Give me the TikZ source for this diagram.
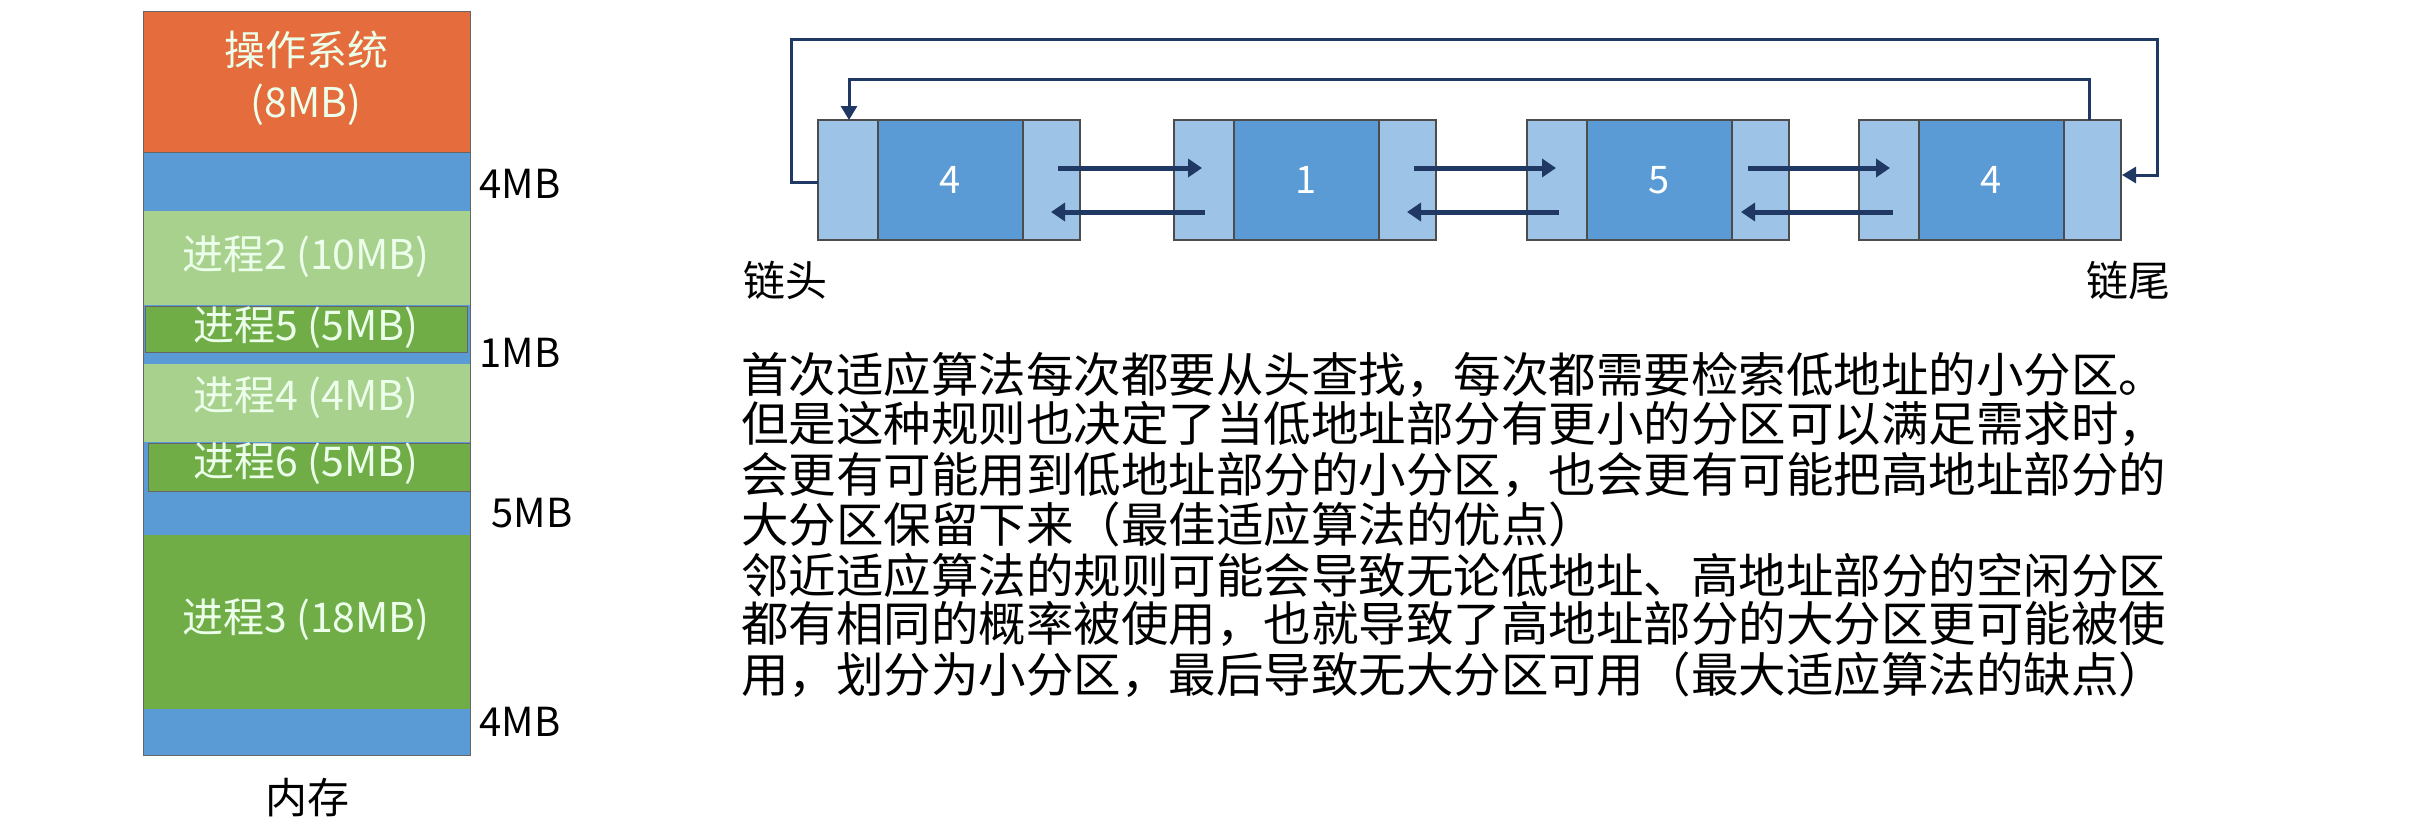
\documentclass[tikz,border=0pt]{standalone}
\usepackage{fontspec}
\setmainfont{Noto Sans CJK SC}
\usetikzlibrary{arrows.meta}
\definecolor{os}{HTML}{E56C3C}
\definecolor{fb}{HTML}{5B9BD5}
\definecolor{lg}{HTML}{A9D18E}
\definecolor{dg}{HTML}{70AD47}
\definecolor{lb}{HTML}{9DC3E6}
\definecolor{nb}{HTML}{5B9BD5}
\definecolor{ar}{HTML}{1F3864}
\begin{document}
\begin{tikzpicture}[x=1pt,y=-1pt,
  blk/.style={draw=black!60,line width=1pt},
  mtxt/.style={text=white!92!green,font=\fontsize{41}{45}\selectfont},
  lab/.style={font=\fontsize{40}{44}\selectfont,anchor=west},
  cell/.style={draw=black!70,line width=1.5pt,fill=lb},
  mid/.style={draw=black!70,line width=1.5pt,fill=nb},
  num/.style={text=white,font=\fontsize{38}{42}\selectfont},
  link/.style={draw=ar,line width=5pt,-{Triangle[length=14pt,width=18pt]}},
  loop/.style={draw=ar,line width=3pt},
  para/.style={font=\fontsize{47.5}{50}\selectfont,anchor=west,inner sep=0pt}]
\useasboundingbox (0,0) rectangle (2410,831);
% memory
\fill[os,blk] (143,11) rectangle (470,152);
\fill[fb,blk] (143,152) rectangle (470,211);
\fill[lg] (143,211) rectangle (470,305);
\fill[fb] (143,305) rectangle (470,364);
\fill[dg,draw=black!60] (145,306) rectangle (467,352);
\fill[lg] (143,364) rectangle (470,442);
\fill[fb] (143,442) rectangle (470,535);
\fill[dg,draw=black!60] (148,443) rectangle (470,491);
\fill[dg] (143,535) rectangle (470,709);
\fill[fb] (143,709) rectangle (470,755);
\draw[black!60,line width=1pt] (143,11) rectangle (470,755);
\node[mtxt] (os) at (306,50) {操作系统};
\node[mtxt] (osm) at (306,105) {(8MB)};
\node[mtxt] (p2) at (306,257) {进程2 (10MB)};
\node[mtxt] (p5) at (306,328) {进程5 (5MB)};
\node[mtxt] (p4) at (306,398) {进程4 (4MB)};
\node[mtxt] (p6) at (306,464) {进程6 (5MB)};
\node[mtxt] (p3) at (306,620) {进程3 (18MB)};
\node[lab] (l1) at (476,184) {4MB};
\node[lab] (l2) at (476,353) {1MB};
\node[lab] (l3) at (488,513) {5MB};
\node[lab] (l4) at (476,722) {4MB};
\node[font=\fontsize{42}{46}\selectfont] (nc) at (307,798) {内存};
% list nodes
\foreach \i/\x/\v in {1/818/4,2/1174/1,3/1527/5,4/1859/4}{
  \draw[cell] (\x,120) rectangle ++(60,120);
  \draw[mid] (\x+60,120) rectangle ++(145,120);
  \draw[cell] (\x+205,120) rectangle ++(57,120);
  \node[num] (n\i) at (\x+132,180) {\v};
}
\foreach \a/\b/\xa/\xb in {1/2/1058/1202,2/3/1414/1556,3/4/1748/1890}{
  \coordinate (f\a) at (\xa,168); \coordinate (g\a) at (\xb,168);
  \draw[link] (f\a) -- (g\a);
  \coordinate (h\a) at (\xb+3,212); \coordinate (k\a) at (\xa-7,212);
  \draw[link] (h\a) -- (k\a);
}
\coordinate (o0) at (818,182);
\coordinate (o1) at (791,182); \coordinate (o2) at (791,39);
\coordinate (o3) at (2157,39); \coordinate (o4) at (2157,175);
\coordinate (o5) at (2122,175);
\draw[loop,-{Triangle[length=14pt,width=16pt]}] (o0) -- (o1) -- (o2) -- (o3) -- (o4) -- (o5);
\coordinate (i1) at (2089,120); \coordinate (i2) at (2089,79);
\coordinate (i3) at (849,79); \coordinate (i4) at (849,120);
\draw[loop,-{Triangle[length=14pt,width=16pt]}] (i1) -- (i2) -- (i3) -- (i4);
\node[font=\fontsize{42}{46}\selectfont] (head) at (785,280) {链头};
\node[font=\fontsize{42}{46}\selectfont] (tail) at (2128,280) {链尾};
% paragraph
\node[para] (t1) at (741,375) {首次适应算法每次都要从头查找，每次都需要检索低地址的小分区。};
\node[para] (t2) at (741,424) {但是这种规则也决定了当低地址部分有更小的分区可以满足需求时，};
\node[para] (t3) at (741,475) {会更有可能用到低地址部分的小分区，也会更有可能把高地址部分的};
\node[para] (t4) at (741,524) {大分区保留下来（最佳适应算法的优点）};
\node[para] (t5) at (741,575) {邻近适应算法的规则可能会导致无论低地址、高地址部分的空闲分区};
\node[para] (t6) at (741,624) {都有相同的概率被使用，也就导致了高地址部分的大分区更可能被使};
\node[para] (t7) at (741,675) {用，划分为小分区，最后导致无大分区可用（最大适应算法的缺点）};
\end{tikzpicture}
\end{document}
